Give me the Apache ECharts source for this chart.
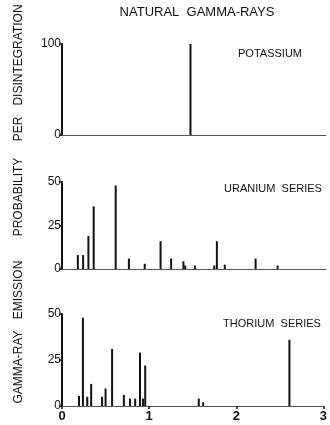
<!DOCTYPE html>
<html>
<head>
<meta charset="utf-8">
<script src="https://cdn.jsdelivr.net/npm/echarts@6/dist/echarts.min.js"></script>
<style>
html,body{margin:0;padding:0;background:#fff;}
#c{width:330px;height:425px;}
</style>
</head>
<body>
<div id="c"></div>
<script>
// Energies in MeV, emission probability per disintegration (%)
var potassiumE = [1.46];
var potassiumP = [100];

var uraniumE = [0.18, 0.24, 0.30, 0.36, 0.61, 0.76, 0.94, 1.12, 1.24, 1.38, 1.40, 1.51, 1.73, 1.76, 1.85, 2.20, 2.45];
var uraniumP = [8, 8, 19, 36, 48, 6, 3, 16, 6, 4.5, 2, 2, 2, 16, 2.5, 6, 2];

var thoriumE = [0.195, 0.24, 0.29, 0.335, 0.46, 0.50, 0.575, 0.71, 0.78, 0.84, 0.895, 0.93, 0.955, 1.57, 1.62, 2.61];
var thoriumP = [5.5, 48, 5, 12, 5, 9.5, 31, 6, 4, 4, 29, 4, 22, 4, 2, 36];

var xTicks = ['0', '1', '2', '3'];
var panelNames = ['POTASSIUM', 'URANIUM  SERIES', 'THORIUM  SERIES'];
var mainTitle = 'NATURAL  GAMMA-RAYS';
var yTitleWords = ['GAMMA-RAY', 'EMISSION', 'PROBABILITY', 'PER', 'DISINTEGRATION'];

function pairs(e, p) { return e.map(function (v, i) { return [v, p[i]]; }); }

var FONT = '"Liberation Sans", Arial, sans-serif';
var INK = '#111';

function xAx(idx, showLabels) {
  return {
    gridIndex: idx, type: 'value', min: 0, max: 3, interval: 1,
    axisLine: { show: true, onZero: false, lineStyle: { color: '#555', width: 1 } },
    axisTick: { show: showLabels, length: 3, lineStyle: { color: INK, width: 1.5 } },
    axisLabel: {
      show: showLabels, margin: 4, fontSize: 13, fontWeight: 'bold', color: INK, fontFamily: FONT,
      formatter: function (v) { return xTicks[Math.round(v)]; }
    },
    splitLine: { show: false }
  };
}
function yAx(idx, max, interval) {
  return {
    gridIndex: idx, type: 'value', min: 0, max: max, interval: interval,
    axisLine: { show: true, lineStyle: { color: INK, width: 2 } },
    axisTick: { show: true, length: 3, lineStyle: { color: INK, width: 1.5 } },
    axisLabel: { margin: 1, fontSize: 12, color: INK, fontFamily: FONT },
    splitLine: { show: false }
  };
}
function barS(idx, e, p) {
  return {
    type: 'bar', xAxisIndex: idx, yAxisIndex: idx, data: pairs(e, p),
    barWidth: 2, itemStyle: { color: INK }, silent: true, animation: false
  };
}

var gText = [];
gText.push({ type: 'text', x: 197, y: 12, style: { text: mainTitle, fontSize: 13, fill: INK, fontFamily: FONT, textAlign: 'center', textVerticalAlign: 'middle' } });
var panelPos = [[270, 54], [273, 189], [272, 324]];
panelNames.forEach(function (n, i) {
  gText.push({ type: 'text', x: panelPos[i][0], y: panelPos[i][1], style: { text: n, fontSize: 11, fill: INK, fontFamily: FONT, textAlign: 'center', textVerticalAlign: 'middle' } });
});
var wordY = [367, 290, 197, 129, 55];
yTitleWords.forEach(function (w, i) {
  gText.push({ type: 'text', x: 19, y: wordY[i], rotation: Math.PI / 2, style: { text: w, fontSize: 12, fill: INK, fontFamily: FONT, textAlign: 'center', textVerticalAlign: 'middle' } });
});

var chart = echarts.init(document.getElementById('c'), null, { renderer: 'canvas' });
chart.setOption({
  animation: false,
  backgroundColor: '#fff',
  grid: [
    { left: 62, right: 4, top: 44, height: 91 },
    { left: 62, right: 4, top: 182, height: 87 },
    { left: 62, right: 4, top: 314, height: 92 }
  ],
  xAxis: [xAx(0, false), xAx(1, false), xAx(2, true)],
  yAxis: [yAx(0, 100, 100), yAx(1, 50, 25), yAx(2, 50, 25)],
  series: [barS(0, potassiumE, potassiumP), barS(1, uraniumE, uraniumP), barS(2, thoriumE, thoriumP)],
  graphic: gText
});
</script>
</body>
</html>
